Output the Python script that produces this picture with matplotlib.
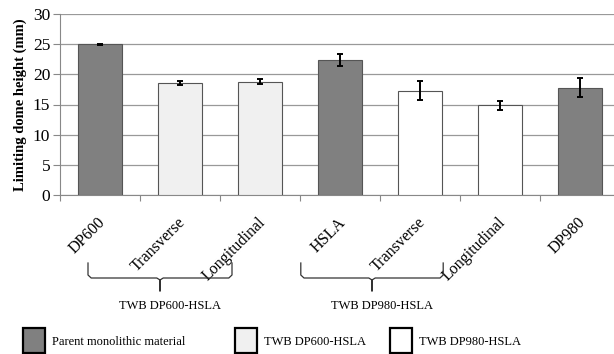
import numpy as np
import matplotlib.pyplot as plt
from matplotlib.patches import Rectangle
from matplotlib.transforms import blended_transform_factory

plt.rcParams['font.family'] = ['Liberation Serif', 'DejaVu Serif']

# limiting dome height per material / orientation
labels = ['DP600', 'Transverse', 'Longitudinal', 'HSLA', 'Transverse', 'Longitudinal', 'DP980']
heights = [25.0, 18.55, 18.8, 22.4, 17.3, 14.85, 17.8]
errors = [0.1, 0.4, 0.35, 0.95, 1.55, 0.7, 1.55]
groups = ['parent', 'twb600', 'twb600', 'parent', 'twb980', 'twb980', 'parent']

group_colors = {'parent': '#808080', 'twb600': '#f0f0f0', 'twb980': '#ffffff'}
legend_names = {'parent': 'Parent monolithic material',
                'twb600': 'TWB DP600-HSLA',
                'twb980': 'TWB DP980-HSLA'}

fig = plt.figure(figsize=(6.14, 3.54), dpi=100)
W, H = 614, 354
ax = fig.add_axes([60 / W, 1 - 195 / H, 560 / W, 181 / H])

x = np.arange(len(labels))
ax.bar(x, heights, width=0.54, color=[group_colors[g] for g in groups],
       edgecolor='#555555', linewidth=0.8, zorder=3)
ax.errorbar(x, heights, yerr=errors, fmt='none', ecolor='black',
            elinewidth=1.4, capsize=2.2, capthick=1.4, zorder=4)

ax.set_xlim(-0.5, len(labels) - 0.5)
ax.set_ylim(0, 30)
ax.set_yticks(np.arange(0, 31, 5))
ax.yaxis.grid(True, color='#999999', linewidth=0.9, zorder=0)
ax.tick_params(axis='y', labelsize=12.5, length=5, color='#888888', pad=2)

# ticks between categories, labels at the category centres
ax.set_xticks(np.arange(-0.5, len(labels), 1.0))
ax.set_xticklabels([])
ax.tick_params(axis='x', length=4, color='#888888')
ax.set_xticks(x - 0.03, minor=True)
ax.set_xticklabels(labels, minor=True, rotation=45, ha='right',
                   rotation_mode='anchor', fontsize=11.5)
ax.tick_params(axis='x', which='minor', length=0, pad=14)

for side in ['top', 'right']:
    ax.spines[side].set_visible(False)
for side in ['left', 'bottom']:
    ax.spines[side].set_color('#888888')

ax.set_ylabel('Limiting dome height (mm)', fontsize=10.5, fontweight='bold', labelpad=4)

# braces grouping the welded-blank orientations
tr = blended_transform_factory(ax.transData, fig.transFigure)


def brace(x0, x1, xm, name):
    def fy(py):
        return 1 - py / H
    top, mid, tip = 263, 278, 291
    ax.plot([x0, x0, x0 + 0.04, xm - 0.04, xm, xm, xm, xm + 0.04, x1 - 0.04, x1, x1],
            [fy(top), fy(mid - 3), fy(mid), fy(mid), fy(mid + 2), fy(tip), fy(mid + 2),
             fy(mid), fy(mid), fy(mid - 3), fy(top)],
            transform=tr, color='#333333', linewidth=0.9, clip_on=False)
    fig.text(((xm + 0.12) + 0.5) * 80 / W + 60 / W, 1 - 306 / H, name,
             ha='center', va='center', fontsize=9)


brace(-0.15, 1.65, 0.75, 'TWB DP600-HSLA')
brace(2.51, 4.29, 3.4, 'TWB DP980-HSLA')

# legend boxes along the bottom
for px, key in zip([23, 235, 390], ['parent', 'twb600', 'twb980']):
    fig.patches.append(Rectangle((px / W, 1 - 353 / H), 22 / W, 25 / H,
                                 transform=fig.transFigure, facecolor=group_colors[key],
                                 edgecolor='black', linewidth=1.6))
    fig.text((px + 29) / W, 1 - 342 / H, legend_names[key], ha='left', va='center',
             fontsize=9)

fig.savefig('out.png', dpi=100)
